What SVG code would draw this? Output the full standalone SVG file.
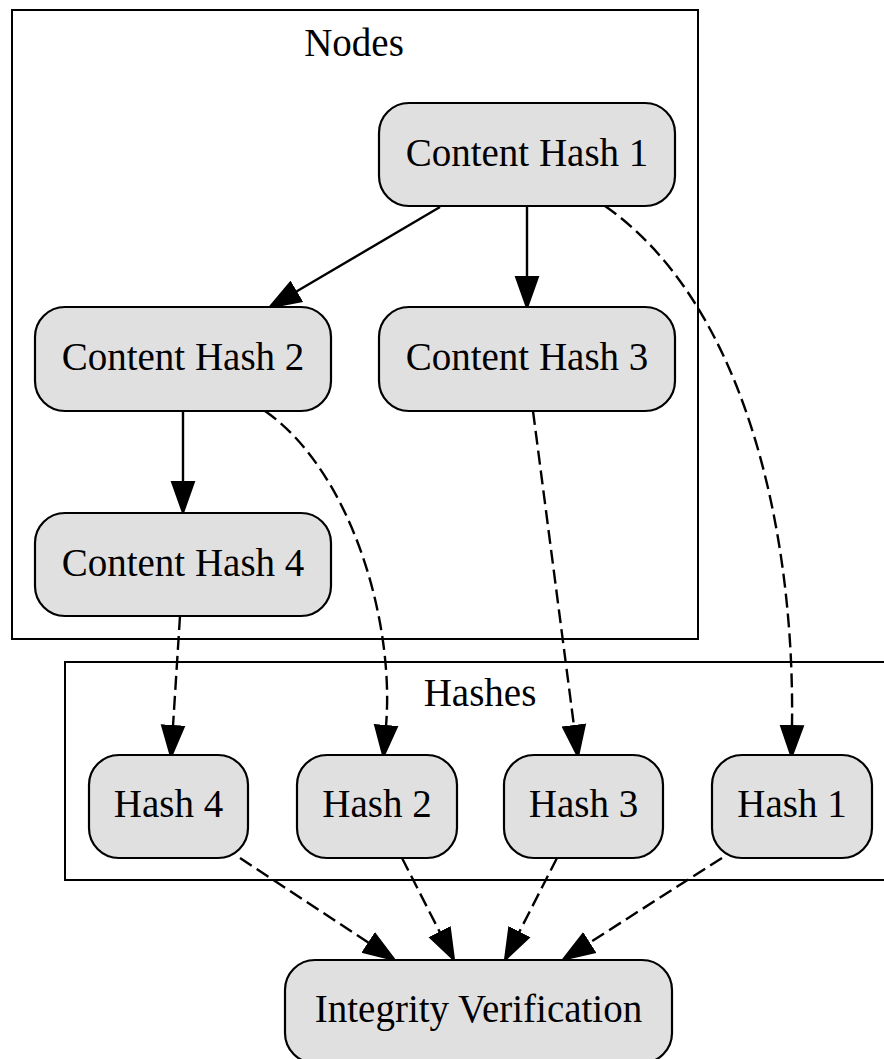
<svg xmlns="http://www.w3.org/2000/svg" width="884" height="1059" viewBox="0 0 884 1059" font-family="Liberation Serif, Times New Roman, Times, serif">
  <style>
    .cluster { fill: none; stroke: #000; stroke-width: 2; }
    .node rect { fill: #e0e0e0; stroke: #000; stroke-width: 2.2; }
    text { font-size: 39px; fill: #000; text-anchor: middle; }
    .edge { fill: none; stroke: #000; stroke-width: 2.4; }
    .dashed { stroke-dasharray: 14 6; }
  </style>
  <defs>
    <marker id="arrow" markerUnits="userSpaceOnUse" markerWidth="34" markerHeight="26" refX="1" refY="12" orient="auto" viewBox="0 0 34 24">
      <path d="M1,1 L32,12 L1,23 Z" fill="#000" stroke="#000" stroke-width="2" stroke-dasharray="none"/>
    </marker>
  </defs>
  <rect width="884" height="1059" fill="#fff"/>

  <!-- clusters -->
  <g id="cluster_nodes">
    <rect class="cluster" x="12" y="10" width="686" height="629"/>
    <text x="354" y="56">Nodes</text>
  </g>
  <g id="cluster_hashes">
    <rect class="cluster" x="65" y="662" width="830" height="218"/>
    <text x="480" y="706">Hashes</text>
  </g>

  <!-- connectors -->
  <g id="edges">
    <path class="edge" d="M440,207 L296,291.8" marker-end="url(#arrow)"/>
    <path class="edge" d="M527,206 L527,277" marker-end="url(#arrow)"/>
    <path class="edge" d="M183,411 L183,482" marker-end="url(#arrow)"/>
    <path class="edge dashed" d="M605,206 C740,300 795,520 792,726" marker-end="url(#arrow)"/>
    <path class="edge dashed" d="M265,411 C350,470 395,620 386,726" marker-end="url(#arrow)"/>
    <path class="edge dashed" d="M533,411 L574,726" marker-end="url(#arrow)"/>
    <path class="edge dashed" d="M180,616 L173,726" marker-end="url(#arrow)"/>
    <path class="edge dashed" d="M240,858 L369,943" marker-end="url(#arrow)"/>
    <path class="edge dashed" d="M402,858 L440,932.5" marker-end="url(#arrow)"/>
    <path class="edge dashed" d="M557,858 L519,932.5" marker-end="url(#arrow)"/>
    <path class="edge dashed" d="M722,858 L589,943" marker-end="url(#arrow)"/>
  </g>

  <!-- nodes -->
  <g id="content_hash_1" class="node">
    <rect x="379" y="103" width="296" height="103" rx="30" ry="30"/>
    <text x="527" y="165.5">Content Hash 1</text>
  </g>
  <g id="content_hash_2" class="node">
    <rect x="35" y="307" width="296" height="104" rx="30" ry="30"/>
    <text x="183" y="370">Content Hash 2</text>
  </g>
  <g id="content_hash_3" class="node">
    <rect x="379" y="307" width="296" height="104" rx="30" ry="30"/>
    <text x="527" y="370">Content Hash 3</text>
  </g>
  <g id="content_hash_4" class="node">
    <rect x="35" y="513" width="296" height="103" rx="30" ry="30"/>
    <text x="183" y="576">Content Hash 4</text>
  </g>
  <g id="hash_4" class="node">
    <rect x="89" y="755" width="159" height="103" rx="30" ry="30"/>
    <text x="168.5" y="817">Hash 4</text>
  </g>
  <g id="hash_2" class="node">
    <rect x="297" y="755" width="160" height="103" rx="30" ry="30"/>
    <text x="377" y="817">Hash 2</text>
  </g>
  <g id="hash_3" class="node">
    <rect x="504" y="755" width="159" height="103" rx="30" ry="30"/>
    <text x="583.5" y="817">Hash 3</text>
  </g>
  <g id="hash_1" class="node">
    <rect x="712" y="755" width="160" height="103" rx="30" ry="30"/>
    <text x="792" y="817">Hash 1</text>
  </g>
  <g id="integrity_verification" class="node">
    <rect x="285" y="960" width="387" height="103" rx="30" ry="30"/>
    <text x="478.5" y="1022">Integrity Verification</text>
  </g>
</svg>
